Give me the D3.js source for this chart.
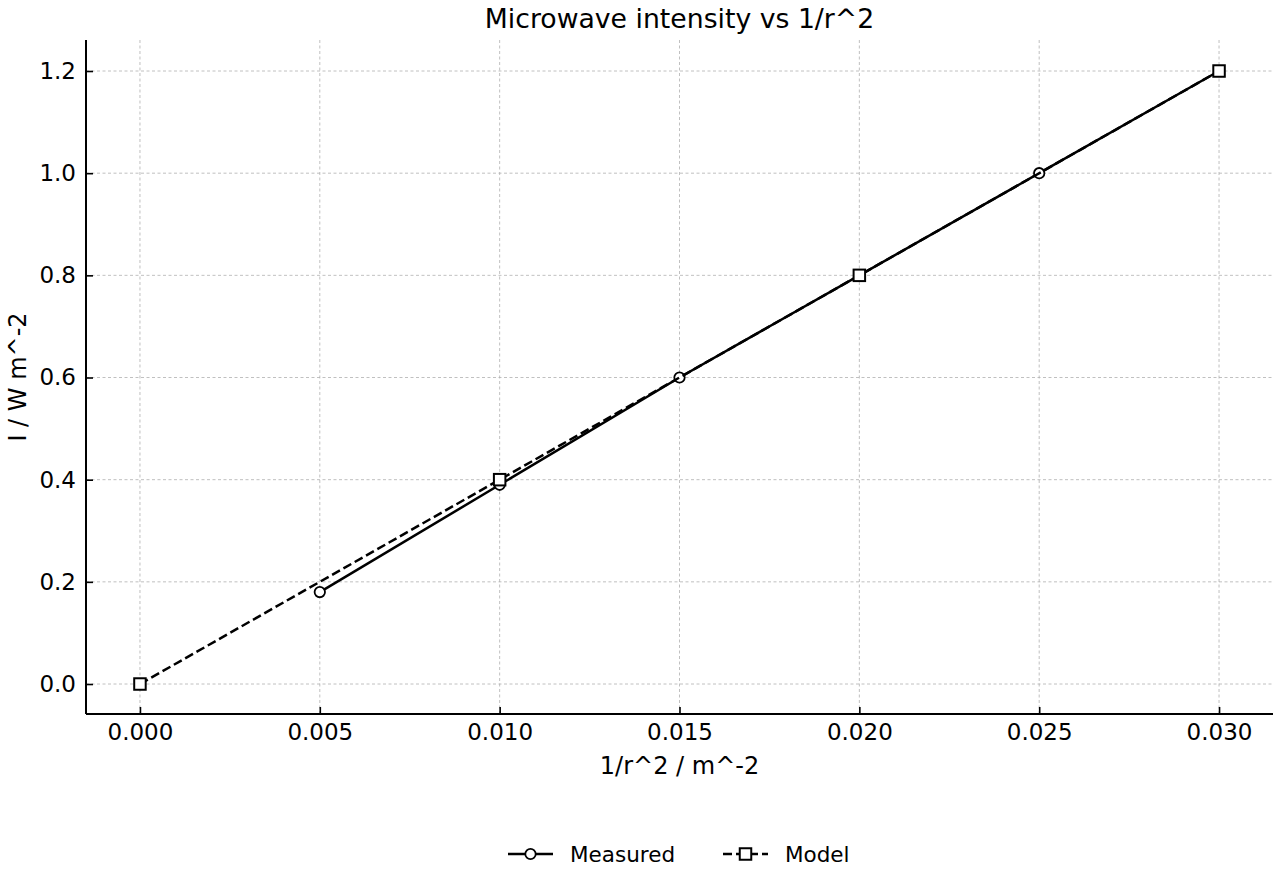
<!DOCTYPE html>
<html>
<head>
<meta charset="utf-8">
<script src="https://cdn.jsdelivr.net/npm/d3@7"></script>
<style>
  body { margin: 0; background: #fff; }
  svg { font-family: "DejaVu Sans", sans-serif; }
</style>
</head>
<body>
<svg id="chart" width="1280" height="880"></svg>
<script>
// data
var measuredX = [0.005, 0.010, 0.015, 0.020, 0.025, 0.030];
var measuredY = [0.18, 0.39, 0.60, 0.80, 1.00, 1.20];
var modelX = [0.000, 0.010, 0.020, 0.030];
var modelY = [0.0, 0.4, 0.8, 1.2];
var xTicks = [0.000, 0.005, 0.010, 0.015, 0.020, 0.025, 0.030];
var yTicks = [0.0, 0.2, 0.4, 0.6, 0.8, 1.0, 1.2];

var svg = d3.select("#chart");
var plotL = 86, plotR = 1273, plotT = 40, plotB = 714;
var font = "DejaVu Sans, sans-serif";

var x = d3.scaleLinear().domain([-0.0015, 0.0315]).range([plotL, plotR]);
var y = d3.scaleLinear().domain([-0.0587, 1.2607]).range([plotB, plotT]);

// grid
var grid = svg.append("g").attr("class", "grid");
grid.selectAll("line.gx")
  .data(xTicks)
  .enter().append("line")
    .attr("x1", function(d){ return x(d); })
    .attr("x2", function(d){ return x(d); })
    .attr("y1", plotT).attr("y2", plotB)
    .attr("stroke", "#b0b0b0")
    .attr("stroke-width", 0.8)
    .attr("stroke-dasharray", "3,2.5");
grid.selectAll("line.gy")
  .data(yTicks)
  .enter().append("line")
    .attr("y1", function(d){ return y(d); })
    .attr("y2", function(d){ return y(d); })
    .attr("x1", plotL).attr("x2", plotR)
    .attr("stroke", "#b0b0b0")
    .attr("stroke-width", 0.8)
    .attr("stroke-dasharray", "3,2.5");

// axes with inward ticks
var xAxis = svg.append("g")
  .attr("transform", "translate(0," + plotB + ")")
  .call(d3.axisBottom(x).tickValues(xTicks).tickFormat(d3.format(".3f")).tickSize(0).tickPadding(8));
xAxis.attr("font-family", font).attr("font-size", 23);
xAxis.selectAll(".tick line").remove();
xAxis.selectAll(".tick").append("line").attr("y2", -7).attr("stroke", "#000").attr("stroke-width", 1.6);
xAxis.select(".domain").remove();
xAxis.selectAll("text").attr("fill", "#000").attr("dy", null).attr("y", 26);

var yAxis = svg.append("g")
  .attr("transform", "translate(" + plotL + ",0)")
  .call(d3.axisLeft(y).tickValues(yTicks).tickFormat(d3.format(".1f")).tickSize(0).tickPadding(10));
yAxis.attr("font-family", font).attr("font-size", 23);
yAxis.selectAll(".tick line").remove();
yAxis.selectAll(".tick").append("line").attr("x2", 7).attr("stroke", "#000").attr("stroke-width", 1.6);
yAxis.select(".domain").remove();
yAxis.selectAll("text").attr("fill", "#000");

svg.append("line").attr("x1", plotL).attr("x2", plotR).attr("y1", plotB).attr("y2", plotB)
  .attr("stroke", "#000").attr("stroke-width", 2);
svg.append("line").attr("x1", plotL).attr("x2", plotL).attr("y1", plotT).attr("y2", plotB)
  .attr("stroke", "#000").attr("stroke-width", 2);

// series
var line = d3.line()
  .x(function(d){ return x(d[0]); })
  .y(function(d){ return y(d[1]); });
var measured = d3.zip(measuredX, measuredY);
var model = d3.zip(modelX, modelY);

svg.append("path").datum(measured)
  .attr("d", line).attr("fill", "none")
  .attr("stroke", "#000").attr("stroke-width", 2.5);
svg.selectAll("circle.m")
  .data(measured)
  .enter().append("circle")
    .attr("cx", function(d){ return x(d[0]); })
    .attr("cy", function(d){ return y(d[1]); })
    .attr("r", 5.2)
    .attr("fill", "#fff").attr("stroke", "#000").attr("stroke-width", 1.8);

svg.append("path").datum(model)
  .attr("d", line).attr("fill", "none")
  .attr("stroke", "#000").attr("stroke-width", 2.5)
  .attr("stroke-dasharray", "9,4");
var sq = 11.5;
svg.selectAll("rect.mo")
  .data(model)
  .enter().append("rect")
    .attr("x", function(d){ return x(d[0]) - sq / 2; })
    .attr("y", function(d){ return y(d[1]) - sq / 2; })
    .attr("width", sq).attr("height", sq)
    .attr("fill", "#fff").attr("stroke", "#000").attr("stroke-width", 2);

// labels
svg.append("text").attr("x", (plotL + plotR) / 2).attr("y", 28)
  .attr("text-anchor", "middle").attr("font-size", 26.7).text("Microwave intensity vs 1/r^2");
svg.append("text").attr("x", (plotL + plotR) / 2).attr("y", 774)
  .attr("text-anchor", "middle").attr("font-size", 24).text("1/r^2 / m^-2");
svg.append("text")
  .attr("transform", "translate(26," + (plotT + plotB) / 2 + ") rotate(-90)")
  .attr("text-anchor", "middle").attr("font-size", 24).text("I / W m^-2");

// legend
var legend = svg.append("g").attr("transform", "translate(0,854)");
legend.append("line").attr("x1", 508).attr("x2", 553).attr("stroke", "#000").attr("stroke-width", 2.5);
legend.append("circle").attr("cx", 530.5).attr("r", 5.2).attr("fill", "#fff").attr("stroke", "#000").attr("stroke-width", 1.8);
legend.append("text").attr("x", 570).attr("dy", "0.35em").attr("font-size", 21.5).text("Measured");
legend.append("line").attr("x1", 723).attr("x2", 768).attr("stroke", "#000").attr("stroke-width", 2.5)
  .attr("stroke-dasharray", "9,4");
legend.append("rect").attr("x", 745.5 - sq / 2).attr("y", -sq / 2).attr("width", sq).attr("height", sq)
  .attr("fill", "#fff").attr("stroke", "#000").attr("stroke-width", 2);
legend.append("text").attr("x", 785).attr("dy", "0.35em").attr("font-size", 21.5).text("Model");
</script>
</body>
</html>
